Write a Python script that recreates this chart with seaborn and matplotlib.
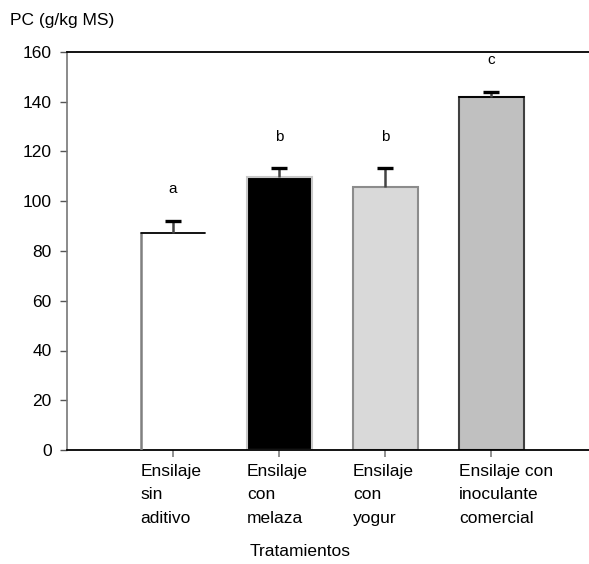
import matplotlib
matplotlib.use("Agg")
import matplotlib.pyplot as plt
import matplotlib.transforms as mtransforms
import seaborn as sns
import numpy as np

categories = ["Ensilaje\nsin\naditivo", "Ensilaje\ncon\nmelaza", "Ensilaje\ncon\nyogur", "Ensilaje con\ninoculante\ncomercial"]
values = [87.2, 109.8, 105.8, 142.0]
errors = [4.8, 3.4, 7.4, 2.0]
letters = ["a", "b", "b", "c"]
fill_colors = ["#ffffff", "#000000", "#d9d9d9", "#c0c0c0"]
edge_colors = ["#808080", "#c8c8c8", "#8c8c8c", "#404040"]
yticks = [0, 20, 40, 60, 80, 100, 120, 140, 160]

sns.set_style("white")
plt.rcParams["font.family"] = ["Liberation Sans", "DejaVu Sans"]
plt.rcParams["text.color"] = "black"
plt.rcParams["xtick.color"] = "black"
plt.rcParams["ytick.color"] = "black"
plt.rcParams["xtick.labelcolor"] = "black"
plt.rcParams["ytick.labelcolor"] = "black"

fig = plt.figure(figsize=(5.89, 5.64), dpi=100)
ax = fig.add_axes([67/589, 1-450/564, 1-67/589, (450-52)/564])

width = 0.61
sns.barplot(x=list(range(len(values))), y=values, hue=list(range(len(values))),
            palette=fill_colors, legend=False, width=width, ax=ax, saturation=1,
            native_scale=True)
for p, ec in zip(ax.patches, edge_colors):
    p.set_edgecolor(ec)
    p.set_linewidth(1.5)
# white bar: only left edge visible in reference -> hide outline, draw left edge
ax.patches[0].set_edgecolor("none")

xs = np.arange(len(values))
vals = np.array(values)
tops = vals + np.array(errors)
ax.vlines(xs, vals, tops, colors="#444444", lw=1.8, zorder=4)
ax.scatter(xs, tops, marker="_", s=130, color="black", linewidths=2.4, zorder=5)

ax.vlines([xs[0] - width/2], 0, vals[0], colors="#808080", lw=1.8, zorder=3)
# top edges black for white and dark-grey bars
for i in [0, 3]:
    ax.plot([xs[i] - width/2, xs[i] + width/2], [vals[i], vals[i]], color="black", lw=1.3, zorder=3)

for i, l in enumerate(letters):
    ax.text(xs[i], tops[i] + 10, l, ha="center", va="bottom", fontsize=11)

ax.set_ylim(0, 160)
ax.set_xlim(-1, 3.92)
ax.set_yticks(yticks)
ax.set_yticklabels([str(t) for t in yticks], fontsize=12.5)
ax.set_xticks(xs)
ax.set_xticklabels([""] * len(xs))
ax.tick_params(axis="x", direction="out", length=5, color="#888888", width=1.3, bottom=True)
ax.tick_params(axis="y", direction="out", length=5, color="#555555", width=1, left=True, pad=6)

trans = mtransforms.blended_transform_factory(ax.transData, ax.transAxes)
for i, lab in enumerate(categories):
    ax.text(xs[i] - width/2, -0.035, lab, transform=trans, ha="left", va="top",
            fontsize=12.5, linespacing=1.7)

ax.set_xlabel("")
ax.set_ylabel("")
fig.text(300/589, 1-552/564, "Tratamientos", ha="center", va="center", fontsize=12.5)
fig.text(10/589, 1-20/564, "PC (g/kg MS)", ha="left", va="center", fontsize=12.5)

ax.spines["right"].set_visible(False)
ax.spines["left"].set_color("#777777")
ax.spines["left"].set_linewidth(1.2)
ax.spines["bottom"].set_color("black")
ax.spines["bottom"].set_linewidth(1.3)
ax.spines["top"].set_color("black")
ax.spines["top"].set_linewidth(1.3)

fig.savefig("out.png", dpi=100)
